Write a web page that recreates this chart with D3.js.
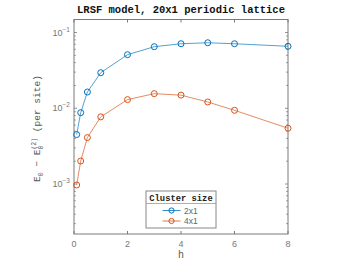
<!DOCTYPE html>
<html>
<head>
<meta charset="utf-8">
<script src="https://cdn.jsdelivr.net/npm/d3@7"></script>
<style>
  body { margin: 0; background: #fff; }
  svg { display: block; }
</style>
</head>
<body>
<div id="chart"></div>
<script>
// data
const hValues = [0.1, 0.25, 0.5, 1, 2, 3, 4, 5, 6, 8];
const cluster2x1 = [0.0045, 0.00875, 0.0164, 0.0295, 0.051, 0.065, 0.0711, 0.0733, 0.0711, 0.0658];
const cluster4x1 = [0.00097, 0.00201, 0.0041, 0.0077, 0.013, 0.0156, 0.0149, 0.0121, 0.0094, 0.00545];
const seriesNames = ['2x1', '4x1'];
const xTicks = [0, 2, 4, 6, 8];
const yMajor = [-3, -2, -1];

const W = 350, H = 263;
const margin = { top: 19.5, right: 62, bottom: 29, left: 74 };
const width = W - margin.left - margin.right,
      height = H - margin.top - margin.bottom;

const colors = ['#0072BD', '#D95319'];
const axisCol = '#7a7a7a';
const mono = '"Liberation Mono", "DejaVu Sans Mono", monospace';

const svg = d3.select('#chart').append('svg')
  .attr('width', W).attr('height', H)
  .style('background-color', '#fff');

const g = svg.append('g')
  .attr('transform', 'translate(' + margin.left + ',' + margin.top + ')');

const x = d3.scaleLinear().domain([0, 8]).range([0, width]);
const y = d3.scaleLog().domain([Math.pow(10, -3.66), Math.pow(10, -0.828)]).range([height, 0]);

// minor log ticks
let minor = [];
for (let e = -4; e <= -1; e++) {
  for (let k = 1; k <= 9; k++) {
    const v = k * Math.pow(10, e);
    if (v >= y.domain()[0] && v <= y.domain()[1]) minor.push(v);
  }
}

// box
g.append('rect')
  .attr('width', width).attr('height', height)
  .attr('fill', 'none').attr('stroke', axisCol).attr('stroke-width', 1);

// x ticks bottom and top
xTicks.forEach(function (t) {
  g.append('line').attr('x1', x(t)).attr('x2', x(t)).attr('y1', height).attr('y2', height - 3)
    .attr('stroke', axisCol);
  g.append('line').attr('x1', x(t)).attr('x2', x(t)).attr('y1', 0).attr('y2', 3)
    .attr('stroke', axisCol);
  g.append('text').attr('x', x(t)).attr('y', height + 13)
    .attr('text-anchor', 'middle')
    .attr('font-family', 'Liberation Sans, Arial, sans-serif')
    .attr('font-size', 9).attr('fill', '#777')
    .text(t);
});

// y ticks left and right
minor.forEach(function (v) {
  const isMajor = Math.abs(Math.log10(v) - Math.round(Math.log10(v))) < 1e-9;
  const len = isMajor ? 3 : 1.8;
  g.append('line').attr('x1', 0).attr('x2', len).attr('y1', y(v)).attr('y2', y(v))
    .attr('stroke', axisCol).attr('stroke-width', 0.8);
  g.append('line').attr('x1', width).attr('x2', width - len).attr('y1', y(v)).attr('y2', y(v))
    .attr('stroke', axisCol).attr('stroke-width', 0.8);
});

yMajor.forEach(function (e) {
  const t = g.append('text').attr('x', -4).attr('y', y(Math.pow(10, e)) + 3)
    .attr('text-anchor', 'end')
    .attr('font-family', 'Liberation Sans, Arial, sans-serif')
    .attr('font-size', 9).attr('fill', '#777');
  t.append('tspan').text('10');
  t.append('tspan').attr('dy', -4).attr('font-size', 6.5).text(String(e).replace('-', '\u2212'));
});

// lines and markers
const series = [cluster2x1, cluster4x1];
const line = d3.line()
  .x(function (d) { return x(d[0]); })
  .y(function (d) { return y(d[1]); });

series.forEach(function (s, i) {
  const pts = hValues.map(function (h, j) { return [h, s[j]]; });
  g.append('path').datum(pts)
    .attr('d', line)
    .attr('fill', 'none')
    .attr('stroke', colors[i])
    .attr('stroke-width', 0.8)
    .attr('opacity', 0.85);
  g.selectAll('.m' + i).data(pts).enter().append('circle')
    .attr('class', 'm' + i)
    .attr('cx', function (d) { return x(d[0]); })
    .attr('cy', function (d) { return y(d[1]); })
    .attr('r', 3)
    .attr('fill', 'none')
    .attr('stroke', colors[i])
    .attr('stroke-width', 1);
});

// title
svg.append('text')
  .attr('x', margin.left + width / 2).attr('y', 13)
  .attr('text-anchor', 'middle')
  .attr('font-family', mono).attr('font-weight', 'bold')
  .attr('font-size', 10.5).attr('fill', '#111')
  .text('LRSF model, 20x1 periodic lattice');

// x label
svg.append('text')
  .attr('x', margin.left + width / 2).attr('y', 258)
  .attr('text-anchor', 'middle')
  .attr('font-family', mono).attr('font-size', 10).attr('fill', '#555')
  .text('h');

// y label
const yl = svg.append('text')
  .attr('transform', 'translate(40,' + (margin.top + 109) + ') rotate(-90)')
  .attr('text-anchor', 'middle')
  .attr('font-family', mono).attr('font-size', 9.5).attr('fill', '#555');
yl.append('tspan').text('E');
yl.append('tspan').attr('dy', 2.5).attr('font-size', 6.5).text('0');
yl.append('tspan').attr('dy', -2.5).text(' \u2212 E');
yl.append('tspan').attr('dy', 2.5).attr('font-size', 6.5).text('0');
yl.append('tspan').attr('dy', -7).attr('dx', -4).attr('font-size', 6.5).text('(2)');
yl.append('tspan').attr('dy', 4.5).text('  (per site)');

// legend
const lg = svg.append('g').attr('transform', 'translate(146,191)');
lg.append('rect').attr('width', 70).attr('height', 37)
  .attr('fill', '#fff').attr('stroke', '#888').attr('stroke-width', 1);
lg.append('line').attr('x1', 0).attr('x2', 70).attr('y1', 12.5).attr('y2', 12.5)
  .attr('stroke', '#999').attr('stroke-width', 0.8);
lg.append('text').attr('x', 35).attr('y', 9.5)
  .attr('text-anchor', 'middle')
  .attr('font-family', mono).attr('font-weight', 'bold')
  .attr('font-size', 8.8).attr('fill', '#222')
  .text('Cluster size');
seriesNames.forEach(function (n, i) {
  const yy = 19.5 + i * 10.5;
  lg.append('line').attr('x1', 16.5).attr('x2', 34.5).attr('y1', yy).attr('y2', yy)
    .attr('stroke', colors[i]).attr('stroke-width', 0.8);
  lg.append('circle').attr('cx', 25.5).attr('cy', yy).attr('r', 2.6)
    .attr('fill', 'none').attr('stroke', colors[i]);
  lg.append('text').attr('x', 38).attr('y', yy + 3)
    .attr('font-family', 'Liberation Sans, Arial, sans-serif')
    .attr('font-size', 8.5).attr('fill', '#666')
    .text(n);
});
</script>
</body>
</html>
